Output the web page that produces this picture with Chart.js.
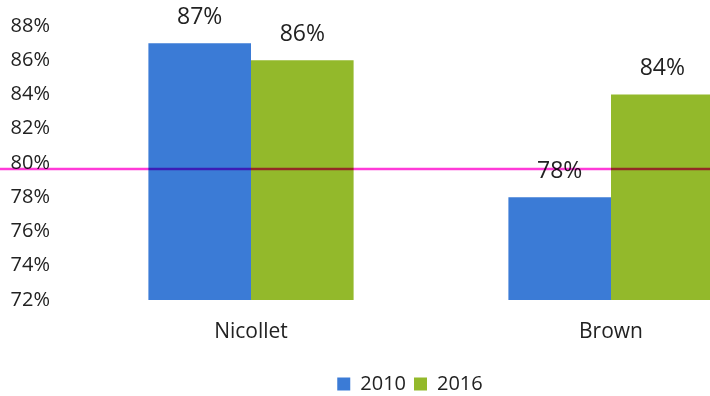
<!DOCTYPE html>
<html>
<head>
<meta charset="utf-8">
<script src="https://cdn.jsdelivr.net/npm/chart.js@4"></script>
<style>
html,body{margin:0;padding:0;background:#fff;overflow:hidden;}
#wrap{width:820px;height:404px;}
</style>
</head>
<body>
<div id="wrap"><canvas id="c" width="820" height="404"></canvas></div>
<script>
const categories = ["Nicollet", "Brown"];
const seriesNames = ["2010", "2016"];
const values2010 = [87, 78];
const values2016 = [86, 84];
const yTicks = [72, 74, 76, 78, 80, 82, 84, 86, 88];
const targetValue = 79.65;

const blue = "#3b7bd6";
const green = "#93b92b";
const textColor = "#222222";
const fontFamily = "'Open Sans', 'DejaVu Sans', sans-serif";

const valueLabels = {
  id: "valueLabels",
  afterDatasetsDraw(chart) {
    const ctx = chart.ctx;
    ctx.save();
    ctx.fillStyle = textColor;
    ctx.font = "23px " + fontFamily;
    ctx.textAlign = "center";
    ctx.textBaseline = "middle";
    chart.data.datasets.forEach((ds, di) => {
      const meta = chart.getDatasetMeta(di);
      meta.data.forEach((bar, i) => {
        ctx.fillText(ds.data[i] + "%", bar.x, bar.y - 26);
      });
    });
    ctx.restore();
  }
};

const targetLine = {
  id: "targetLine",
  afterDraw(chart) {
    const ctx = chart.ctx;
    const y = chart.scales.y.getPixelForValue(targetValue);
    ctx.save();
    ctx.globalCompositeOperation = "multiply";
    ctx.strokeStyle = "#ff3ad8";
    ctx.lineWidth = 2.5;
    ctx.beginPath();
    ctx.moveTo(0, y);
    ctx.lineTo(chart.width, y);
    ctx.stroke();
    ctx.restore();
  }
};

new Chart(document.getElementById("c"), {
  type: "bar",
  data: {
    labels: categories,
    datasets: [
      { label: seriesNames[0], data: values2010, backgroundColor: blue },
      { label: seriesNames[1], data: values2016, backgroundColor: green }
    ]
  },
  options: {
    responsive: false,
    animation: false,
    layout: { padding: { top: 26, right: 0, left: 0, bottom: 0 } },
    datasets: { bar: { barPercentage: 1.0, categoryPercentage: 0.57 } },
    scales: {
      x: {
        afterFit(scale) { scale.height = 66; },
        grid: { display: false, drawTicks: false },
        border: { display: false },
        ticks: { color: textColor, font: { family: fontFamily, size: 21 }, padding: 19 }
      },
      y: {
        min: 72, max: 88,
        afterBuildTicks(scale) { scale.ticks = yTicks.map(v => ({ value: v })); },
        afterFit(scale) { scale.width = 71; scale.paddingTop = 0; scale.paddingBottom = 0; },
        grid: { display: false, drawTicks: false },
        border: { display: false },
        ticks: {
          color: textColor,
          font: { family: fontFamily, size: 20 },
          padding: 21,
          callback: v => v + "%"
        }
      },
      yRight: {
        position: "right",
        min: 72, max: 88,
        afterFit(scale) { scale.width = 29; scale.paddingTop = 0; scale.paddingBottom = 0; },
        grid: { display: false, drawTicks: false },
        border: { display: false },
        ticks: { display: false }
      }
    },
    plugins: {
      legend: {
        position: "bottom",
        labels: {
          color: textColor,
          font: { family: fontFamily, size: 20 },
          boxWidth: 13, boxHeight: 13,
          padding: 8
        }
      },
      tooltip: { enabled: false }
    }
  },
  plugins: [valueLabels, targetLine]
});
</script>
</body>
</html>
